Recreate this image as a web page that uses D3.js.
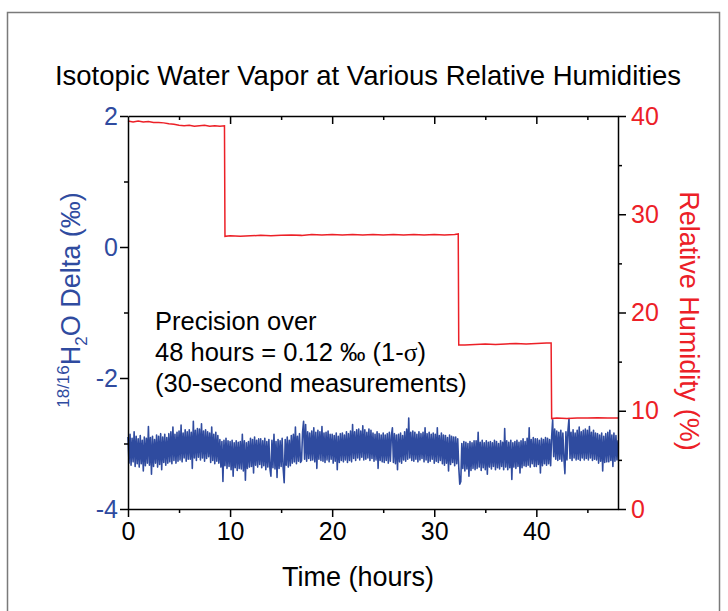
<!DOCTYPE html>
<html>
<head>
<meta charset="utf-8">
<script src="https://cdn.jsdelivr.net/npm/d3@7"></script>
<style>
  body { margin: 0; background: #fff; }
  svg text { font-family: "Liberation Sans", Arial, Helvetica, sans-serif; }
</style>
</head>
<body>
<div class="chart-container"></div>
<script>
// 18/16 H2O delta, one reading per 0.1 h (0 - 48 h)
const deltaStep = 0.1;
const deltaValues = [
  -2.90, -3.30, -2.86, -3.33, -2.92, -3.28, -2.82, -3.35, -2.89, -3.31,
  -2.93, -3.36, -2.88, -3.31, -2.95, -3.42, -2.90, -3.34, -2.92, -3.30,
  -2.74, -3.33, -2.91, -3.47, -2.89, -3.35, -2.94, -3.30, -2.87, -3.36,
  -2.89, -3.32, -2.85, -3.40, -2.90, -3.29, -2.86, -3.33, -2.91, -3.30,
  -2.85, -3.28, -2.82, -3.31, -2.75, -3.26, -2.86, -3.30, -2.83, -3.27,
  -2.81, -3.25, -2.72, -3.28, -2.84, -3.22, -2.79, -3.27, -2.82, -3.24,
  -2.79, -3.24, -2.83, -3.38, -2.66, -3.22, -2.80, -3.26, -2.77, -3.21,
  -2.78, -3.25, -2.70, -3.22, -2.81, -3.27, -2.79, -3.23, -2.82, -3.20,
  -2.84, -3.29, -2.75, -3.26, -2.86, -3.31, -2.83, -3.27, -2.88, -3.30,
  -2.94, -3.36, -2.97, -3.58, -2.95, -3.34, -2.92, -3.38, -2.96, -3.35,
  -2.97, -3.40, -2.95, -3.50, -2.99, -3.37, -2.96, -3.41, -2.98, -3.38,
  -2.97, -3.39, -2.86, -3.42, -2.96, -3.56, -2.99, -3.38, -2.97, -3.36,
  -2.92, -3.35, -2.94, -3.45, -2.90, -3.33, -2.95, -3.36, -2.93, -3.32,
  -2.93, -3.37, -2.96, -3.34, -2.92, -3.40, -2.97, -3.36, -2.94, -3.38,
  -3.50, -2.95, -3.37, -2.86, -3.39, -2.97, -3.52, -2.94, -3.38, -2.96,
  -3.35, -2.92, -3.38, -3.60, -2.94, -3.33, -2.90, -3.36, -2.95, -3.34,
  -2.88, -3.30, -2.86, -3.28, -2.75, -3.31, -2.89, -3.27, -2.85, -3.29,
  -3.26, -2.83, -2.66, -3.24, -2.71, -3.27, -2.82, -3.23, -2.84, -3.26,
  -2.81, -3.25, -2.76, -3.28, -2.83, -3.38, -2.80, -3.24, -2.82, -3.26,
  -2.74, -3.27, -2.84, -3.29, -2.83, -3.25, -2.81, -3.28, -2.86, -3.24,
  -2.86, -3.30, -2.88, -3.27, -2.84, -3.40, -2.89, -3.29, -2.85, -3.26,
  -2.84, -3.28, -2.87, -3.25, -2.82, -3.29, -2.85, -3.26, -2.81, -3.28,
  -2.71, -3.23, -2.82, -3.26, -2.79, -3.22, -2.78, -3.25, -2.81, -3.21,
  -2.73, -3.25, -2.79, -3.24, -2.83, -3.22, -2.78, -3.26, -2.80, -3.23,
  -2.84, -3.27, -2.86, -3.25, -2.82, -3.38, -2.85, -3.26, -2.87, -3.28,
  -2.84, -3.29, -2.87, -3.26, -2.85, -3.30, -2.83, -3.27, -2.88, -2.76,
  -3.29, -2.85, -3.31, -2.87, -3.40, -2.86, -3.28, -2.84, -3.30, -2.88,
  -3.25, -2.82, -3.27, -2.78, -3.24, -2.61, -3.22, -2.83, -3.26, -2.81,
  -3.27, -2.83, -3.24, -2.86, -3.28, -2.82, -3.25, -2.85, -3.23, -2.83,
  -3.28, -2.76, -3.25, -2.85, -3.29, -2.83, -3.27, -2.86, -3.24, -2.84,
  -3.30, -2.86, -3.27, -2.76, -3.29, -2.88, -3.26, -2.84, -3.31, -2.87,
  -3.33, -2.88, -3.30, -2.91, -3.42, -2.87, -3.32, -2.89, -3.29, -2.90,
  -3.34, -2.90, -3.31, -2.93, -3.36, -3.62, -3.58, -3.00, -3.38, -2.97,
  -3.42, -2.98, -3.39, -3.00, -3.50, -2.97, -3.41, -2.99, -3.38, -2.96,
  -3.40, -2.96, -3.38, -2.83, -3.36, -2.98, -3.41, -2.95, -3.37, -2.99,
  -3.40, -2.96, -3.47, -2.98, -3.36, -2.97, -3.39, -2.99, -3.35, -2.95,
  -3.40, -2.97, -3.37, -3.00, -3.39, -2.96, -3.35, -2.98, -3.40, -2.77,
  -3.36, -2.96, -3.40, -2.98, -3.37, -2.95, -3.55, -2.99, -3.36, -2.97,
  -3.38, -2.95, -3.35, -2.98, -3.45, -2.96, -3.37, -2.93, -3.34, -2.97,
  -3.35, -2.92, -3.33, -2.76, -3.36, -2.94, -3.31, -2.91, -3.35, -2.93,
  -3.35, -2.93, -3.32, -2.95, -3.45, -2.92, -3.34, -2.94, -3.31, -2.91,
  -3.33, -2.92, -3.31, -2.94, -3.34, -2.90, -2.64, -3.20, -2.78, -3.24,
  -2.81, -3.26, -2.83, -3.24, -2.80, -3.27, -2.84, -3.22, -3.46, -2.82,
  -3.25, -2.80, -2.62, -3.23, -2.83, -3.26, -2.79, -3.22, -2.84, -3.25,
  -2.80, -3.24, -2.75, -3.26, -2.82, -3.22, -2.80, -3.25, -2.78, -3.23,
  -2.80, -3.25, -2.74, -3.22, -2.83, -3.26, -2.80, -3.24, -2.84, -3.25,
  -2.85, -3.30, -2.87, -3.27, -2.84, -3.42, -2.89, -3.29, -2.85, -3.28,
  -2.83, -3.28, -2.80, -3.26, -2.87, -3.35, -2.84, -3.27, -2.88, -3.25,
  -2.95
];

// relative humidity steps (%)
const rhTime = [
  0, 0.5, 1, 1.5, 2, 2.5, 3, 3.5, 4, 4.5, 5, 5.5, 6, 6.5, 7, 7.5, 8, 8.5, 9, 9.45,
  9.5, 10, 11, 12, 13, 14, 15, 16, 17, 18, 19, 20, 21, 22, 23, 24, 25, 26, 27, 28, 29, 30, 31, 32, 32.35,
  32.4, 33, 34, 35, 36, 37, 38, 39, 40, 41, 41.45,
  41.5, 42, 43, 44, 45, 46, 47, 48
];
const rhValue = [
  39.5, 39.4, 39.5, 39.4, 39.45, 39.35, 39.35, 39.3, 39.2, 39.15, 39.05, 39.0, 39.05, 38.95, 39.0, 39.05, 38.95, 39.0, 38.95, 39.0,
  27.75, 27.8, 27.75, 27.8, 27.85, 27.8, 27.85, 27.9, 27.85, 27.95, 27.9, 27.95, 27.9, 27.95, 27.9, 27.95, 27.9, 27.95, 27.9, 27.95, 27.9, 27.95, 27.9, 27.95, 28.0,
  16.7, 16.7, 16.75, 16.8, 16.75, 16.8, 16.85, 16.8, 16.85, 16.9, 16.9,
  9.2, 9.25, 9.2, 9.25, 9.25, 9.3, 9.25, 9.25
];

// ticks
const timeTicks = [0, 10, 20, 30, 40];
const timeMinorTicks = [5, 15, 25, 35, 45];
const deltaTicks = [-4, -2, 0, 2];
const deltaMinorTicks = [-3, -1, 1];
const rhTicks = [0, 10, 20, 30, 40];
const rhMinorTicks = [5, 15, 25, 35];

const noteLines = ["Precision over", "48 hours = 0.12 \u2030 (1-", "(30-second measurements)"];

const BLUE = "#2f4b9f";
const RED = "#ec2027";

class VaporChart {
  constructor() {
    this.width = 728;
    this.height = 611;
    this.margin = { top: 116, right: 110, bottom: 102, left: 128 };

    this.svg = d3.select(".chart-container")
      .append("svg")
      .attr("width", this.width)
      .attr("height", this.height);

    this.xScale = d3.scaleLinear()
      .domain([0, 48])
      .range([this.margin.left, this.width - this.margin.right]);
    this.yScale = d3.scaleLinear()
      .domain([-4, 2])
      .range([this.height - this.margin.bottom, this.margin.top]);
    this.rhScale = d3.scaleLinear()
      .domain([0, 40])
      .range([this.height - this.margin.bottom, this.margin.top]);

    this.drawFrame();
    this.drawSeries();
    this.drawAxes();
    this.drawText();
  }

  drawFrame() {
    this.svg.append("rect")
      .attr("x", 7.5)
      .attr("y", 12.5)
      .attr("width", 712)
      .attr("height", 640)
      .attr("fill", "none")
      .attr("stroke", "#7a7a7a")
      .attr("stroke-width", 1.5);
  }

  drawSeries() {
    let deltaLine = d3.line()
      .x((d, i) => this.xScale(i * deltaStep))
      .y(d => this.yScale(d));

    this.svg.append("path")
      .datum(deltaValues)
      .attr("fill", "none")
      .attr("stroke", BLUE)
      .attr("stroke-width", 1.6)
      .attr("stroke-linejoin", "round")
      .attr("d", deltaLine);

    let rhLine = d3.line()
      .x((d, i) => this.xScale(rhTime[i]))
      .y(d => this.rhScale(d));

    this.svg.append("path")
      .datum(rhValue)
      .attr("fill", "none")
      .attr("stroke", RED)
      .attr("stroke-width", 1.5)
      .attr("d", rhLine);
  }

  styleAxis(g, color) {
    g.selectAll("path.domain").attr("stroke", "#000").attr("stroke-width", 1.5);
    g.selectAll(".tick line").attr("stroke", "#000").attr("stroke-width", 1.5);
    g.selectAll(".tick text")
      .attr("fill", color)
      .style("font-size", "25px");
  }

  drawAxes() {
    const bottomY = this.height - this.margin.bottom;
    const rightX = this.width - this.margin.right;
    const plain = d => String(d);

    // bottom
    let xAxis = this.svg.append("g")
      .attr("transform", `translate(0, ${bottomY})`)
      .call(d3.axisBottom(this.xScale).tickValues(timeTicks).tickFormat(plain)
        .tickSize(8).tickSizeOuter(0).tickPadding(5));
    this.styleAxis(xAxis, "#000");
    this.svg.append("g")
      .attr("transform", `translate(0, ${bottomY})`)
      .call(d3.axisBottom(this.xScale).tickValues(timeMinorTicks).tickSize(4).tickFormat(""))
      .call(g => g.select(".domain").remove())
      .call(g => this.styleAxis(g, "#000"));

    // top, ticks pointing in
    let topAxis = this.svg.append("g")
      .attr("transform", `translate(0, ${this.margin.top})`)
      .call(d3.axisTop(this.xScale).tickValues(timeTicks.slice(1)).tickSize(-8).tickSizeOuter(0).tickFormat(""));
    this.styleAxis(topAxis, "#000");
    this.svg.append("g")
      .attr("transform", `translate(0, ${this.margin.top})`)
      .call(d3.axisTop(this.xScale).tickValues(timeMinorTicks).tickSize(-4).tickFormat(""))
      .call(g => g.select(".domain").remove())
      .call(g => this.styleAxis(g, "#000"));

    // left
    let yAxis = this.svg.append("g")
      .attr("transform", `translate(${this.margin.left}, 0)`)
      .call(d3.axisLeft(this.yScale).tickValues(deltaTicks).tickFormat(plain)
        .tickSize(8).tickSizeOuter(0).tickPadding(2));
    this.styleAxis(yAxis, BLUE);
    this.svg.append("g")
      .attr("transform", `translate(${this.margin.left}, 0)`)
      .call(d3.axisLeft(this.yScale).tickValues(deltaMinorTicks).tickSize(4).tickFormat(""))
      .call(g => g.select(".domain").remove())
      .call(g => this.styleAxis(g, BLUE));

    // right
    let rhAxis = this.svg.append("g")
      .attr("transform", `translate(${rightX}, 0)`)
      .call(d3.axisRight(this.rhScale).tickValues(rhTicks).tickFormat(plain)
        .tickSize(8).tickSizeOuter(0).tickPadding(5));
    this.styleAxis(rhAxis, RED);
    this.svg.append("g")
      .attr("transform", `translate(${rightX}, 0)`)
      .call(d3.axisRight(this.rhScale).tickValues(rhMinorTicks).tickSize(4).tickFormat(""))
      .call(g => g.select(".domain").remove())
      .call(g => this.styleAxis(g, RED));
  }

  drawText() {
    this.svg.append("text")
      .attr("x", 368)
      .attr("y", 85)
      .attr("text-anchor", "middle")
      .style("font-size", "27.5px")
      .text("Isotopic Water Vapor at Various Relative Humidities");

    this.svg.append("text")
      .attr("x", 358)
      .attr("y", 586)
      .attr("text-anchor", "middle")
      .style("font-size", "27px")
      .text("Time (hours)");

    // left label with super/subscripts
    let yLabel = this.svg.append("text")
      .attr("transform", "translate(80, 300) rotate(-90)")
      .attr("text-anchor", "middle")
      .attr("fill", BLUE)
      .style("font-size", "27px");
    yLabel.append("tspan").attr("dy", -11).style("font-size", "17px").text("18/16");
    yLabel.append("tspan").attr("dy", 11).text("H");
    yLabel.append("tspan").attr("dy", 7).style("font-size", "17px").text("2");
    yLabel.append("tspan").attr("dy", -7).text("O Delta (\u2030)");

    this.svg.append("text")
      .attr("transform", "translate(680, 321) rotate(90)")
      .attr("text-anchor", "middle")
      .attr("fill", RED)
      .style("font-size", "27px")
      .text("Relative Humidity (%)");

    let note = this.svg.append("g").style("font-size", "25.5px");
    note.selectAll("text")
      .data(noteLines)
      .enter().append("text")
      .attr("x", 155)
      .attr("y", (d, i) => 330 + i * 31)
      .text(d => d);
    let sigmaLine = note.selectAll("text").filter((d, i) => i === 1);
    sigmaLine.append("tspan")
      .style("font-family", "'Liberation Serif', 'DejaVu Serif', serif")
      .text("\u03c3");
    sigmaLine.append("tspan").text(")");
  }
}

new VaporChart();
</script>
</body>
</html>
